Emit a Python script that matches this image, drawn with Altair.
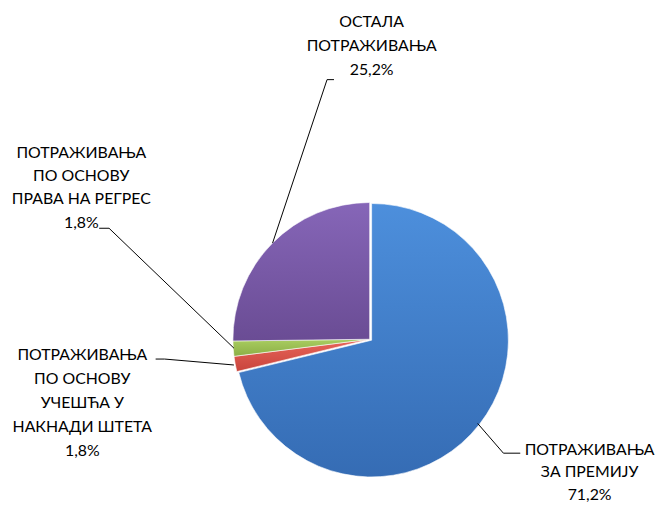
import altair as alt
import pandas as pd
import math

categories = [
    "ПОТРАЖИВАЊА ЗА ПРЕМИЈУ",
    "ПОТРАЖИВАЊА ПО ОСНОВУ УЧЕШЋА У НАКНАДИ ШТЕТА",
    "ПОТРАЖИВАЊА ПО ОСНОВУ ПРАВА НА РЕГРЕС",
    "ОСТАЛА ПОТРАЖИВАЊА",
]
values = [71.2, 1.8, 1.8, 25.2]
colors_top = ["#4d8fdc", "#e8655a", "#a9cd60", "#8666b8"]
colors_bottom = ["#356cb4", "#c8443c", "#8bae46", "#6a4c94"]
label_lines = [
    ["ПОТРАЖИВАЊА", "ЗА ПРЕМИЈУ"],
    ["ПОТРАЖИВАЊА", "ПО ОСНОВУ", "УЧЕШЋА У", "НАКНАДИ ШТЕТА"],
    ["ПОТРАЖИВАЊА", "ПО ОСНОВУ", "ПРАВА НА РЕГРЕС"],
    ["ОСТАЛА", "ПОТРАЖИВАЊА"],
]

df = pd.DataFrame({"cat": categories, "val": values, "idx": list(range(len(values)))})

FONT = "Lato"
FS = 16
CX, CY, R = 365, 332, 138

base = alt.Chart(df).transform_window(
    end="sum(val)", sort=[alt.SortField("idx")], frame=[None, 0]
).transform_calculate(start="datum.end - datum.val")

theta_scale = alt.Scale(domain=[0, 100], range=[0, 2 * math.pi])

layers = []
for i, cat in enumerate(categories):
    dx, dy = (2, 1) if i == 0 else (0, 0)
    grad = alt.LinearGradient(
        gradient="linear",
        stops=[alt.GradientStop(color=colors_top[i], offset=0),
               alt.GradientStop(color=colors_bottom[i], offset=1)],
        x1=0, x2=0, y1=0, y2=1,
    )
    layers.append(
        base.transform_filter(alt.datum.idx == i).mark_arc(
            stroke="white", strokeWidth=0.6, fill=grad
        ).encode(
            theta=alt.Theta("start:Q", scale=theta_scale),
            theta2="end:Q",
            x=alt.value(CX + dx),
            y=alt.value(CY + dy),
            radius=alt.value(R),
        )
    )

def fmt(v):
    return f"{v:.1f}".replace(".", ",") + "%"

label_pos = [(587, 444), (75, 348), (74, 144), (367, 12)]
line_heights = [22.5, 24.2, 23.5, 24.0]
for i, (lx, ly) in enumerate(label_pos):
    lines = label_lines[i] + [fmt(values[i])]
    layers.append(
        alt.Chart(pd.DataFrame({"t": [lines]})).mark_text(
            font=FONT, fontSize=FS, color="#000000", align="center",
            baseline="middle", lineHeight=line_heights[i]
        ).encode(text="t:N", x=alt.value(lx), y=alt.value(ly))
    )

leaders = [
    [(474, 417), (500, 447), (517, 447)],
    [(149, 352), (158, 352), (228, 358)],
    [(92, 220), (102, 220), (228, 341)],
    [(329, 70), (322, 70), (267, 235)],
]
for pts in leaders:
    for (x1, y1), (x2, y2) in zip(pts[:-1], pts[1:]):
        layers.append(
            alt.Chart(pd.DataFrame({"a": [0]})).mark_rule(color="#000000", strokeWidth=1).encode(
                x=alt.value(x1), y=alt.value(y1), x2=alt.value(x2), y2=alt.value(y2)
            )
        )

chart = alt.layer(*layers).properties(
    width=655, height=497, padding=0, autosize=alt.AutoSizeParams(type="none"),
    background="white"
).configure_view(strokeWidth=0, stroke=None)

chart.save("out.html", embed_options={"renderer": "svg", "actions": False})
